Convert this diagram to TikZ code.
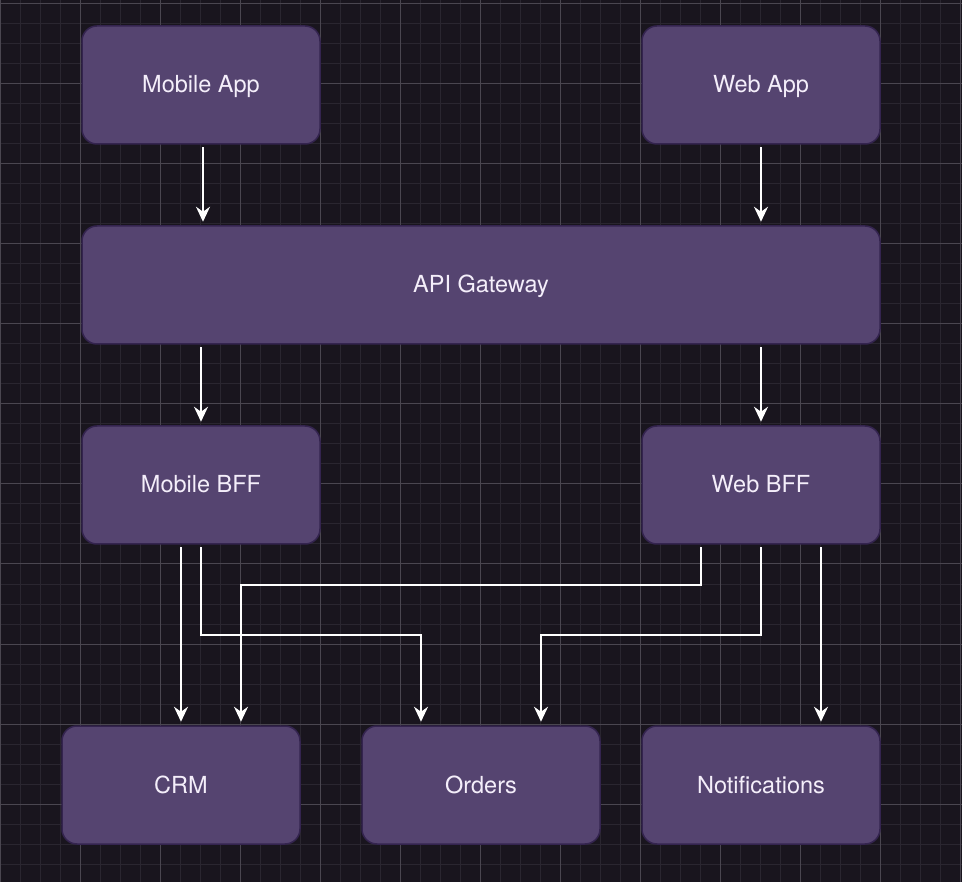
\documentclass[tikz,border=0pt]{standalone}
\usepackage{fontspec}
\setmainfont{TeX Gyre Heros}
\usetikzlibrary{arrows.meta,calc}
\definecolor{bgc}{HTML}{19151E}
\definecolor{minorc}{HTML}{2A2630}
\definecolor{majorc}{HTML}{4A4650}
\definecolor{boxfill}{HTML}{554470}
\definecolor{boxline}{HTML}{34244F}
\definecolor{txt}{HTML}{F4EEFA}
\tikzset{
  box/.style={draw=boxline, line width=1.5pt, fill=boxfill, rounded corners=15pt,
    minimum width=238pt, minimum height=118pt, text=txt,
    font=\fontsize{23.5}{28}\selectfont, inner sep=0pt,
    text height=16pt, text depth=0pt},
  arr/.style={draw=white, line width=1.7pt,
    -{Stealth[length=15pt,width=14pt,inset=5pt]},
    shorten <=2.5pt, shorten >=3.5pt},
}
\begin{document}
\begin{tikzpicture}[x=1pt,y=-1pt]
\fill[bgc] (0,0) rectangle (962,882);
\useasboundingbox (0,0) rectangle (962,882);
\foreach \i in {0,20,...,960} \draw[minorc, line width=1pt] (\i,0) -- (\i,882);
\foreach \j in {4,24,...,880} \draw[minorc, line width=1pt] (0,\j) -- (962,\j);
\foreach \i in {0,80,...,960} \draw[majorc, line width=1pt] (\i,0) -- (\i,882);
\foreach \j in {4,84,...,880} \draw[majorc, line width=1pt] (0,\j) -- (962,\j);

\node[box] (mapp) at (201,85) {Mobile App};
\node[box] (wapp) at (761,85) {Web App};
\node[box, minimum width=798pt] (api) at (481,285) {API Gateway};
\node[box] (mbff) at (201,485) {Mobile BFF};
\node[box] (wbff) at (761,485) {Web BFF};
\node[box] (crm) at (181,785) {CRM};
\node[box] (orders) at (481,785) {Orders};
\node[box] (notif) at (761,785) {Notifications};

\draw[arr] ([xshift=2pt]mapp.south) -- ([xshift=2pt]mapp.south |- api.north);
\draw[arr] (wapp.south) -- (wapp.south |- api.north);
\draw[arr] (mbff.south |- api.south) -- (mbff.north);
\draw[arr] (wbff.south |- api.south) -- (wbff.north);

\draw[arr] (crm.north |- mbff.south) -- (crm.north);
\draw[arr] (mbff.south) -- ++(0,90) -| ([xshift=-60pt]orders.north);
\draw[arr] ([xshift=-60pt]wbff.south) -- ++(0,40) -| ([xshift=60pt]crm.north);
\draw[arr] (wbff.south) -- ++(0,90) -| ([xshift=60pt]orders.north);
\draw[arr] ([xshift=60pt]wbff.south) -- ([xshift=60pt]notif.north);
\end{tikzpicture}
\end{document}
